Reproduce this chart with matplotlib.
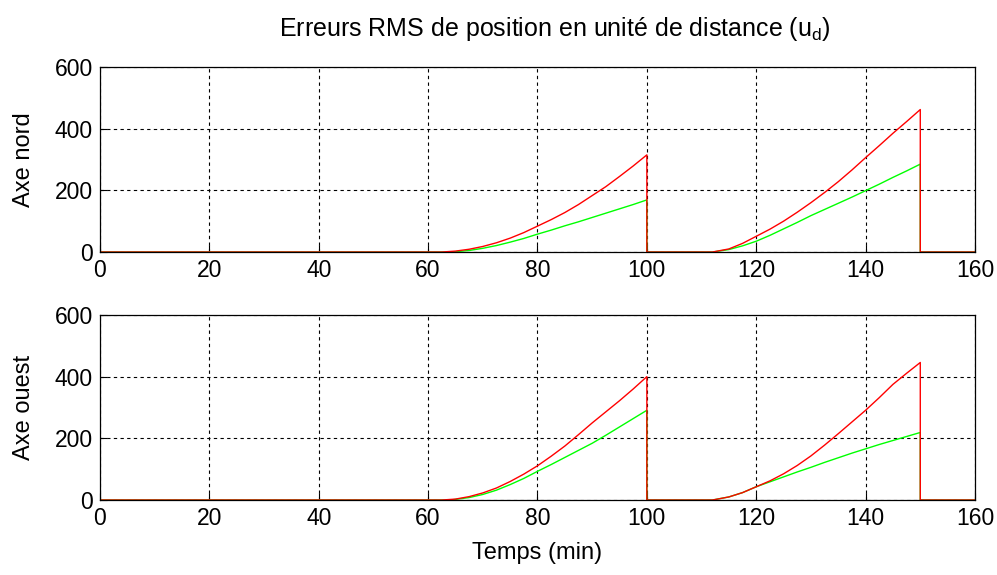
## Import libraries
import matplotlib
matplotlib.use('Agg')
from matplotlib import pyplot as plt

plt.rcParams['font.family'] = ['Liberation Sans', 'DejaVu Sans']
plt.rcParams['mathtext.fontset'] = 'custom'
plt.rcParams['mathtext.rm'] = 'Liberation Sans'
plt.rcParams['mathtext.it'] = 'Liberation Sans'

## Data (time in min, RMS error in distance units)
t_red = [0, 62.5, 65, 67.5, 70, 72.5, 75, 77.5, 80, 82.5, 85, 87.5, 90, 92.5, 95, 97.5, 100, 100,
         112, 115, 117.5, 120, 122.5, 125, 127.5, 130, 132.5, 135, 137.5, 140, 142.5, 145, 147.5, 150, 150, 160]
t_green = [0, 64, 65, 67.5, 70, 72.5, 75, 77.5, 80, 82.5, 85, 87.5, 90, 92.5, 95, 97.5, 100, 100,
           112, 115, 117.5, 120, 122.5, 125, 127.5, 130, 132.5, 135, 137.5, 140, 142.5, 145, 147.5, 150, 150, 160]

nord_red = [0, 0, 3, 9, 18, 30, 45, 63, 84, 105, 128, 154, 183, 212, 245, 279, 315, 0,
            0, 10, 28, 51, 74, 100, 129, 160, 193, 228, 266, 306, 345, 385, 423, 462, 0, 0]
nord_green = [0, 0, 1, 5, 12, 21, 32, 44, 58, 71, 85, 98, 112, 126, 140, 154, 169, 0,
              0, 8, 20, 35, 54, 75, 96, 118, 138, 158, 178, 199, 220, 242, 263, 285, 0, 0]

ouest_red = [0, 0, 3, 11, 23, 39, 60, 84, 111, 142, 175, 212, 250, 286, 322, 360, 400, 0,
             0, 10, 24, 43, 62, 85, 112, 143, 178, 215, 253, 291, 332, 375, 411, 446, 0, 0]
ouest_green = [0, 0, 2, 8, 18, 32, 50, 70, 93, 115, 138, 161, 184, 210, 237, 264, 291, 0,
               0, 10, 24, 43, 59, 75, 91, 106, 122, 137, 152, 166, 180, 193, 206, 219, 0, 0]

x_ticks = [0, 20, 40, 60, 80, 100, 120, 140, 160]
y_ticks = [0, 200, 400, 600]

fig = plt.figure(figsize=(9.97, 5.75), dpi=100)
ax1 = fig.add_axes([0.1003, 0.5617, 0.8776, 0.3218])
ax2 = fig.add_axes([0.1003, 0.1304, 0.8776, 0.3218])

for ax, red, green, label in [(ax1, nord_red, nord_green, 'Axe nord'),
                              (ax2, ouest_red, ouest_green, 'Axe ouest')]:
    ax.plot(t_green, green, color='#00ff00', lw=1.0)
    ax.plot(t_red, red, color='#ff0000', lw=1.0)
    ax.set_xlim(0, 160)
    ax.set_ylim(0, 600)
    ax.set_xticks(x_ticks)
    ax.set_yticks(y_ticks)
    ax.grid(True, color='black', linestyle=(0, (3, 3)), linewidth=0.8)
    ax.tick_params(direction='in', length=5, labelsize=16.5, pad=5, color='black')
    ax.set_ylabel(label, fontsize=17, labelpad=14)
    for s in ax.spines.values():
        s.set_linewidth(0.9)

ax2.set_xlabel('Temps (min)', fontsize=17, labelpad=9)
ax1.set_title(r'Erreurs RMS de position en unité de distance (u$_{\mathrm{d}}$)',
              fontsize=18, pad=22, x=0.52)

plt.savefig('out.png', dpi=100)
plt.close('all')
